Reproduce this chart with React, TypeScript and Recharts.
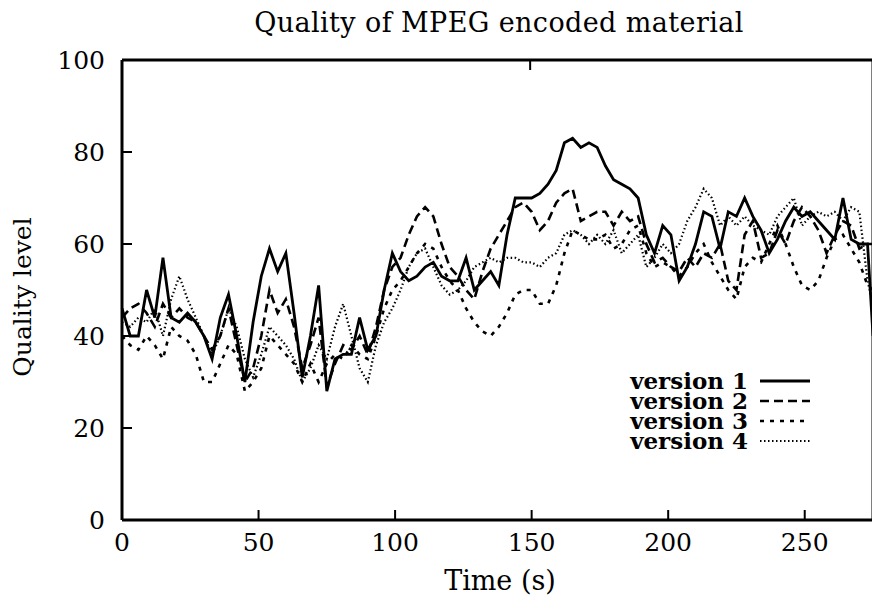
import React from 'react';
import { LineChart, Line, XAxis, YAxis } from 'recharts';

const times = [
  0, 3, 6, 9, 12, 15, 18, 21, 24, 27,
  30, 33, 36, 39, 42, 45, 48, 51, 54, 57,
  60, 63, 66, 69, 72, 75, 78, 81, 84, 87,
  90, 93, 96, 99, 102, 105, 108, 111, 114, 117,
  120, 123, 126, 129, 132, 135, 138, 141, 144, 147,
  150, 153, 156, 159, 162, 165, 168, 171, 174, 177,
  180, 183, 186, 189, 192, 195, 198, 201, 204, 207,
  210, 213, 216, 219, 222, 225, 228, 231, 234, 237,
  240, 243, 246, 249, 252, 255, 258, 261, 264, 267,
  270, 273, 275,
];

const version1 = [
  46, 40, 40, 50, 44, 57, 44, 43, 45, 43,
  40, 35, 44, 49, 40, 30, 43, 53, 59, 54,
  58, 45, 31, 40, 51, 28, 35, 36, 36, 44,
  37, 40, 50, 58, 54, 52, 53, 55, 56, 53,
  52, 52, 57, 50, 52, 54, 51, 62, 70, 70,
  70, 71, 73, 76, 82, 83, 81, 82, 81, 77,
  74, 73, 72, 70, 62, 58, 64, 62, 52, 55,
  60, 67, 66, 59, 67, 66, 70, 66, 63, 58,
  61, 65, 68, 66, 67, 65, 63, 61, 70, 61,
  60, 60, 40,
];

const version2 = [
  44, 46, 47, 45, 42, 47, 44, 46, 44, 43,
  40, 37, 40, 46, 38, 30, 33, 40, 50, 45,
  48, 42, 33, 38, 44, 29, 34, 38, 37, 40,
  36, 42, 50, 55, 57, 62, 66, 68, 66, 60,
  55, 53, 50, 48, 54, 59, 62, 65, 68, 69,
  67, 63, 65, 69, 71, 72, 65, 66, 67, 67,
  64, 67, 65, 66, 60, 56, 57, 55, 54, 57,
  55, 58, 57, 60, 52, 50, 62, 65, 57, 58,
  63, 60, 65, 68, 66, 63, 58, 62, 65, 64,
  59, 60, 60,
];

const version3 = [
  40, 38, 37, 40, 38, 35, 42, 40, 39, 36,
  30, 30, 34, 38, 36, 28, 30, 33, 40, 38,
  36, 34, 30, 34, 30, 34, 36, 35, 38, 36,
  35, 40, 46, 50, 52, 55, 58, 60, 59, 55,
  52, 50, 46, 43, 41, 40, 42, 45, 49, 50,
  50, 47, 47, 51, 58, 63, 62, 61, 61, 62,
  59, 60, 63, 64, 58, 55, 56, 55, 53, 55,
  58, 60, 56, 53, 50, 48, 55, 57, 56, 60,
  64, 60, 55, 51, 50, 52, 57, 61, 62, 59,
  56, 51, 50,
];

const version4 = [
  43, 42, 44, 43, 46, 40, 48, 53, 48, 44,
  40, 36, 40, 46, 42, 35, 31, 36, 42, 40,
  38, 35, 30, 33, 38, 35, 42, 47, 40, 33,
  30, 38, 43, 46, 50, 55, 58, 59, 55, 51,
  49, 50, 52, 55, 56, 57, 56, 57, 57, 56,
  56, 55, 57, 58, 62, 63, 62, 60, 62, 60,
  63, 58, 60, 62, 55, 57, 60, 58, 60, 65,
  68, 72, 70, 64, 66, 64, 66, 64, 63, 62,
  66, 68, 70, 64, 66, 67, 66, 67, 65, 68,
  67, 52, 47,
];

const xTicks = [0, 50, 100, 150, 200, 250];
const yTicks = [0, 20, 40, 60, 80, 100];
const seriesNames = ['version 1', 'version 2', 'version 3', 'version 4'];
const titleText = 'Quality of MPEG encoded material';
const xLabel = 'Time (s)';
const yLabel = 'Quality level';

const FONT = "'DejaVu Serif', serif";
const dashes = ['', '9 5', '4 6', '1.5 2.5'];
const widths = [2.8, 2.6, 2.6, 2.2];
const keys = ['v1', 'v2', 'v3', 'v4'];

const data = times.map((t, i) => ({
  t,
  v1: version1[i],
  v2: version2[i],
  v3: version3[i],
  v4: version4[i],
}));

const tickStyle = { fontFamily: FONT, fontSize: 25, fill: '#000' };
const axisLineStyle = { stroke: '#000', strokeWidth: 3 };
const tickLineStyle = { stroke: '#000', strokeWidth: 2 };

export default function App() {
  return (
    <div
      style={{
        position: 'absolute',
        left: 0,
        top: 0,
        width: 872,
        height: 604,
        overflow: 'hidden',
        background: '#fff',
      }}
    >
      <LineChart
        width={900}
        height={604}
        data={data}
        margin={{ top: 30, right: 7, bottom: 0, left: 0 }}
      >
        <XAxis
          dataKey="t"
          type="number"
          domain={[0, 275]}
          ticks={xTicks}
          height={84}
          tickSize={-10}
          tickMargin={23}
          tick={tickStyle}
          axisLine={axisLineStyle}
          tickLine={tickLineStyle}
          allowDataOverflow
        />
        <XAxis
          xAxisId="top"
          orientation="top"
          type="number"
          domain={[0, 275]}
          ticks={xTicks}
          height={30}
          tickSize={-10}
          tickFormatter={() => ''}
          axisLine={axisLineStyle}
          tickLine={tickLineStyle}
        />
        <YAxis
          type="number"
          domain={[0, 100]}
          ticks={yTicks}
          width={122}
          tickSize={-10}
          tickMargin={27}
          tick={tickStyle}
          axisLine={axisLineStyle}
          tickLine={tickLineStyle}
        />
        <YAxis
          yAxisId="right"
          orientation="right"
          type="number"
          domain={[0, 100]}
          ticks={yTicks}
          width={20}
          tickSize={-10}
          tickFormatter={() => ''}
          axisLine={axisLineStyle}
          tickLine={tickLineStyle}
        />
        {keys.map((k, i) => (
          <Line
            key={k}
            dataKey={k}
            name={seriesNames[i]}
            type="linear"
            stroke="#000"
            strokeWidth={widths[i]}
            strokeDasharray={dashes[i] || undefined}
            dot={false}
            activeDot={false}
            isAnimationActive={false}
          />
        ))}
      </LineChart>
      <svg
        width={872}
        height={604}
        style={{ position: 'absolute', left: 0, top: 0, pointerEvents: 'none' }}
      >
        <text x={499} y={32} textAnchor="middle" fontFamily={FONT} fontSize={27} letterSpacing={0.4} fill="#000">
          {titleText}
        </text>
        <text x={500} y={590} textAnchor="middle" fontFamily={FONT} fontSize={27} fill="#000">
          {xLabel}
        </text>
        <text
          x={0}
          y={0}
          transform="translate(31,297) rotate(-90)"
          textAnchor="middle"
          fontFamily={FONT}
          fontSize={25}
          fill="#000"
        >
          {yLabel}
        </text>
        {seriesNames.map((name, i) => (
          <g key={name}>
            <text
              x={748}
              y={381 + i * 20 + 8}
              textAnchor="end"
              fontFamily={FONT}
              fontSize={23}
              fontWeight="bold"
              fill="#000"
            >
              {name}
            </text>
            <line
              x1={760}
              x2={810}
              y1={381 + i * 20}
              y2={381 + i * 20}
              stroke="#000"
              strokeWidth={widths[i]}
              strokeDasharray={dashes[i] || undefined}
            />
          </g>
        ))}
      </svg>
    </div>
  );
}
